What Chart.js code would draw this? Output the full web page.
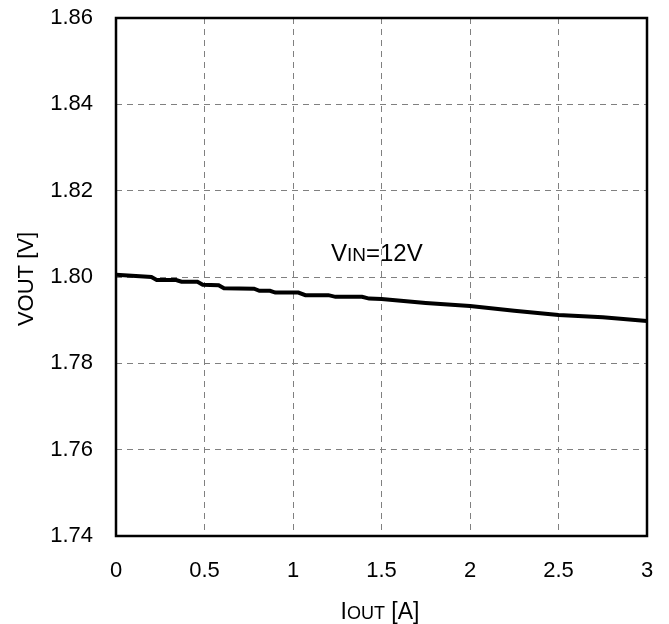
<!DOCTYPE html>
<html>
<head>
<meta charset="utf-8">
<script src="https://cdn.jsdelivr.net/npm/chart.js@4.4.1/dist/chart.umd.min.js"></script>
<style>
  html, body { margin: 0; padding: 0; background: #fff; }
  #wrap { width: 669px; height: 624px; }
</style>
</head>
<body>
<div id="wrap"><canvas id="chart"></canvas></div>
<script>
// IOUT [A] and VOUT [V]
const ioutA = [0, 0.2, 0.23, 0.34, 0.37, 0.46, 0.49, 0.58, 0.61, 0.78, 0.81, 0.87, 0.9, 1.03, 1.07, 1.2, 1.24, 1.39, 1.43, 1.5, 1.75, 2.0, 2.25, 2.5, 2.75, 3.0];
const voutV = [1.8005, 1.8000, 1.7993, 1.7993, 1.7989, 1.7989, 1.7982, 1.7981, 1.7974, 1.7973, 1.7968, 1.7968, 1.7964, 1.7964, 1.7958, 1.7958, 1.7954, 1.7954, 1.7950, 1.7949, 1.7940, 1.7933, 1.7922, 1.7912, 1.7907, 1.7898];
const xTicks = [0, 0.5, 1, 1.5, 2, 2.5, 3];
const yTicks = [1.74, 1.76, 1.78, 1.80, 1.82, 1.84, 1.86];

const FONT = '"Liberation Sans", Arial, sans-serif';

// draws text with a smaller font for the middle part (I<small>OUT</small>)
function drawSub(ctx, parts, x, y, align) {
  let total = 0;
  parts.forEach(p => { ctx.font = p[1] + 'px ' + FONT; total += ctx.measureText(p[0]).width; });
  let cx = align === 'center' ? x - total / 2 : x;
  ctx.textAlign = 'left';
  ctx.textBaseline = 'alphabetic';
  parts.forEach(p => {
    ctx.font = p[1] + 'px ' + FONT;
    ctx.fillText(p[0], cx, y);
    cx += ctx.measureText(p[0]).width;
  });
}

const decorations = {
  id: 'decorations',
  afterDraw(chart) {
    const { ctx, chartArea: a } = chart;
    ctx.save();
    ctx.strokeStyle = '#000';
    ctx.lineWidth = 2.5;
    ctx.strokeRect(a.left, a.top, a.right - a.left, a.bottom - a.top);
    ctx.fillStyle = '#000';
    // annotation
    drawSub(ctx, [['V', 24], ['IN', 19], ['=12V', 24]], 331, 261, 'left');
    // x title
    drawSub(ctx, [['I', 23], ['OUT', 18], [' [A]', 23]], 380, 619, 'center');
    // y title
    ctx.translate(33, 279);
    ctx.rotate(-Math.PI / 2);
    drawSub(ctx, [['VOUT [V]', 22]], 0, 0, 'center');
    ctx.restore();
  }
};

new Chart(document.getElementById('chart'), {
  type: 'scatter',
  data: {
    datasets: [{
      data: ioutA.map((x, i) => ({ x: x, y: voutV[i] })),
      showLine: true,
      borderColor: '#000',
      borderWidth: 4,
      pointRadius: 0,
      tension: 0
    }]
  },
  options: {
    responsive: true,
    maintainAspectRatio: false,
    animation: false,
    layout: { padding: { top: 18, right: 22, left: 0, bottom: 0 } },
    plugins: { legend: { display: false }, tooltip: { enabled: false } },
    scales: {
      x: {
        type: 'linear', min: 0, max: 3,
        afterBuildTicks: s => { s.ticks = xTicks.map(v => ({ value: v })); },
        afterFit: s => { s.height = 88; s.paddingLeft = 0; s.paddingRight = 0; },
        grid: { color: '#808080', lineWidth: 1, drawTicks: false },
        border: { display: false, dash: [6, 5] },
        ticks: { color: '#000', font: { family: FONT, size: 22 }, padding: 22, maxRotation: 0,
          callback: v => String(v) }
      },
      y: {
        type: 'linear', min: 1.74, max: 1.86,
        afterBuildTicks: s => { s.ticks = yTicks.map(v => ({ value: v })); },
        afterFit: s => { s.width = 116; s.paddingTop = 0; s.paddingBottom = 0; },
        grid: { color: '#808080', lineWidth: 1, drawTicks: false },
        border: { display: false, dash: [6, 5] },
        ticks: { color: '#000', font: { family: FONT, size: 22 }, padding: 23,
          callback: v => v.toFixed(2) }
      }
    }
  },
  plugins: [decorations]
});
</script>
</body>
</html>
